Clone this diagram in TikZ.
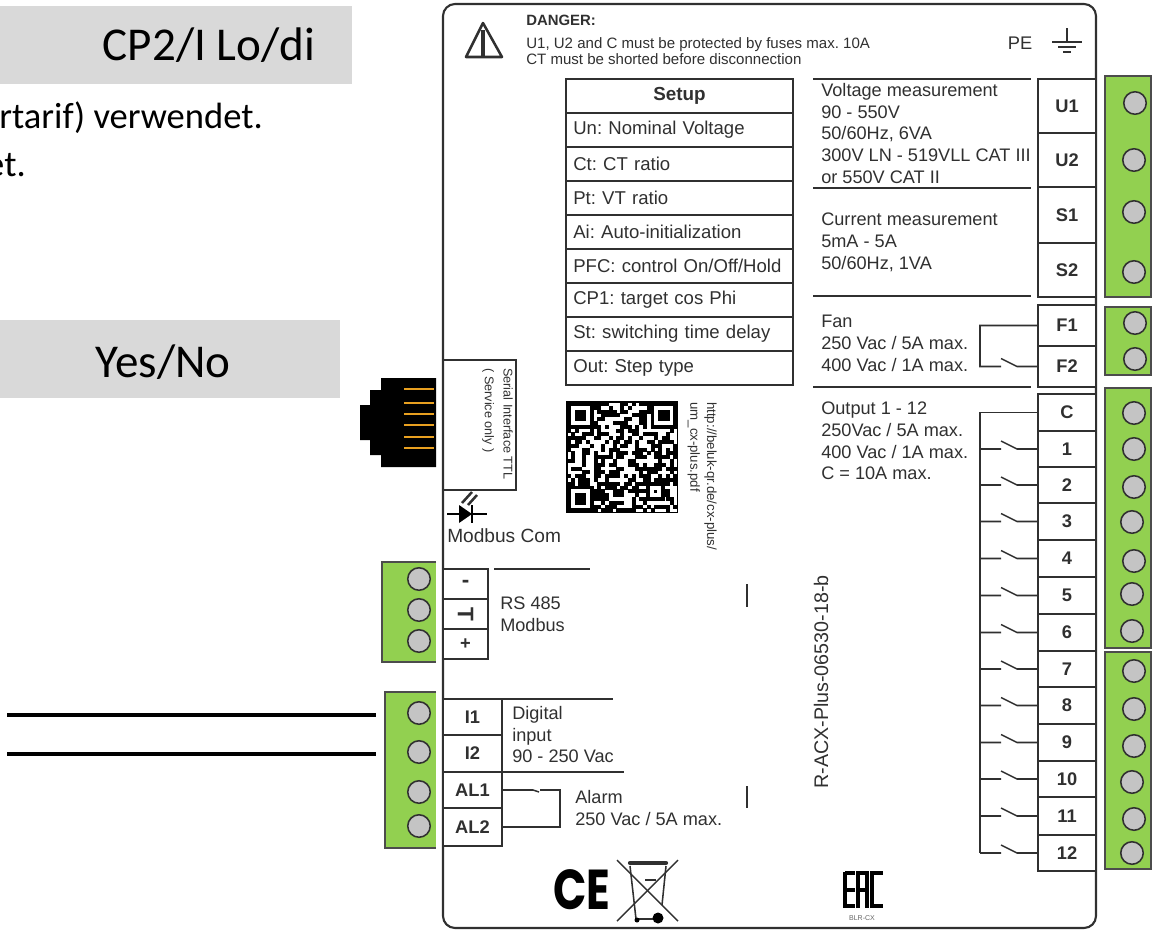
\documentclass[tikz,border=0pt]{standalone}
\usepackage{fontspec}
\usetikzlibrary{calc}
\setmainfont{Liberation Sans}
\newfontfamily\calibri{Carlito}
\newfontfamily\ceface{Poppins}
\definecolor{labelgreen}{HTML}{92D050}
\definecolor{labelgray}{HTML}{D9D9D9}
\definecolor{inkgray}{HTML}{303030}
\definecolor{screwgray}{HTML}{C4C4C4}
\definecolor{pingold}{HTML}{E8A020}
\tikzset{
  rule/.style={draw=inkgray,line width=1.5pt},
  relay/.style={draw=inkgray,line width=1.1pt},
  wire/.style={draw=black,line width=2.4pt},
  greenbar/.style={fill=labelgreen},
  screw/.style={circle,draw=inkgray,fill=screwgray,line width=1.1pt,minimum size=16pt,inner sep=0pt},
  terminal/.style={rectangle,draw=inkgray,fill=white,line width=1.5pt,inner sep=0pt,outer sep=0pt,text=inkgray,font=\bfseries\fontsize{13}{15}\selectfont},
  setuprow/.style={rectangle,draw=inkgray,line width=1.3pt,inner ysep=0pt,inner xsep=5pt,outer sep=0pt,minimum height=34*0.025cm,text width=151pt,align=left,text=inkgray,font=\fontsize{13.2}{15}\selectfont},
  spec/.style={anchor=north west,inner sep=0pt,align=left,text=inkgray,font=\fontsize{12.9}{15.4}\selectfont},
  header/.style={rectangle,inner sep=0pt,font=\calibri\fontsize{33.5}{38}\selectfont},
  note/.style={inner sep=0pt,font=\calibri\fontsize{26}{30}\selectfont},
}
\begin{document}
\frenchspacing
\begin{tikzpicture}[x=0.025cm,y=-0.025cm]
\useasboundingbox (0,0) rectangle (1158,930);
\fill[labelgray] (0,6) rectangle (352,84);
\fill[labelgray] (0,320) rectangle (340,398);
\node[header] (cplabel) at (209,45) {CP2/I Lo/di};
\node[header] (yesno) at (163,362) {Yes/No};
\node[note,anchor=east] (notea) at (263,118) {rtarif) verwendet.};
\node[note,anchor=east] (noteb) at (26,165) {et.};

\fill[black] (381,378) -- (436,378) -- (436,467) -- (381,467) -- (381,455) -- (370,455) -- (370,440) -- (360,440) -- (360,405) -- (370,405) -- (370,390) -- (381,390) -- cycle;
\foreach \y in {389,403,414,425,437,448}
  \draw[pingold,line width=1.1pt] (404,\y) -- (434,\y);

\foreach \ya/\yb in {76/297,307/375,388/648,652/869}
  \draw[greenbar,draw=black!70,line width=1pt] (1105,\ya) rectangle (1151,\yb);
\foreach \y/\x [count=\n] in {103/1135,160/1134,212/1134,272/1134,323/1135,359/1135,413/1134,449/1134,487/1134,522/1132,561/1134,594/1132,631/1132,671/1134,709/1134,746/1134,782/1132,819/1134,853/1132}
  \node[screw] (sr\n) at (\x,\y) {};

\fill[labelgreen] (382,562) rectangle (436,662);
\draw[black!70,line width=1pt] (436,562) -- (382,562) -- (382,662) -- (436,662);
\fill[labelgreen] (385,692) rectangle (436,848);
\draw[black!70,line width=1pt] (436,692) -- (385,692) -- (385,848) -- (436,848);
\foreach \y [count=\n] in {579,610,641,713,752,792,826}
  \node[screw] (sl\n) at (419,\y) {};

\coordinate (wirea) at (7,715);
\coordinate (wireb) at (7,754);
\coordinate (enda) at (376,715);
\coordinate (endb) at (376,754);
\draw[wire] (wirea) -- (enda);
\draw[wire] (wireb) -- (endb);

\draw[rule,rounded corners=0.3cm] (443,4) rectangle (1096,928);

\draw[inkgray,line width=1.8pt,line join=round] (483,23) -- (466,57) -- (502,57) -- cycle;
\draw[inkgray,line width=3pt] (483,30) -- (483,57);
\node[anchor=west,inner sep=0pt,text=inkgray,font=\bfseries\fontsize{10.6}{12}\selectfont] (danger) at (526,20) {DANGER:};
\node[spec,font=\fontsize{10.7}{11.6}\selectfont] (dangertxt) at (526,37) {U1, U2 and C must be protected by fuses max. 10A\\CT must be shorted before disconnection};
\node[inner sep=0pt,text=inkgray,font=\fontsize{13}{15}\selectfont] (pe) at (1020,43) {PE};
\draw[relay] (1067,28) -- (1067,42);
\draw[relay] (1052,42) -- (1082,42);
\draw[relay] (1058,47) -- (1076,47);
\draw[relay] (1063,52) -- (1071,52);

\node[setuprow,font=\bfseries\fontsize{13.4}{15}\selectfont,align=center] (setup) at (679.5,96) {Setup};
\foreach \txt [count=\n] in {Un: Nominal Voltage,Ct: CT ratio,Pt: VT ratio,Ai: Auto-initialization,PFC: control On/Off/Hold,CP1: target cos Phi,St: switching time delay,Out: Step type}
  \node[setuprow] (row\n) at (679.5,{96+\n*34}) {\txt};

\foreach \y in {79,188,296,387}
  \draw[rule] (813,\y) -- (1031,\y);
\node[spec] (voltage) at (821,83) {Voltage measurement\\90 - 550V\\50/60Hz, 6VA\\300V LN - 519VLL CAT III\\or 550V CAT II};
\node[spec] (current) at (821,213) {Current measurement\\5mA - 5A\\50/60Hz, 1VA};
\node[spec] (fan) at (821,315) {Fan\\250 Vac / 5A max.\\400 Vac / 1A max.};
\node[spec] (output) at (821,402) {Output 1 - 12\\250Vac / 5A max.\\400 Vac / 1A max.\\C = 10A max.};

\foreach \name/\ya/\yb/\txt in {tu1/79/133/U1,tu2/133/187/U2,ts1/187/243/S1,ts2/243/297/S2,tf1/305/346/F1,tf2/346/387/F2,tc/394/431/C,t1/431/467/1,t2/467/503/2,t3/503/540/3,t4/540/577/4,t5/577/614/5,t6/614/651/6,t7/651/687/7,t8/687/724/8,t9/724/761/9,t10/761/797/10,t11/797/835/11,t12/835/871/12}
  \node[terminal,minimum width=58*0.025cm,minimum height={(\yb-\ya)*0.025cm}] (\name) at (1067,{(\ya+\yb)/2}) {\txt};

\coordinate (busx) at (980,0);
\draw[relay] (tc.west) -- (tc.west -| busx) -- (t12.west -| busx);
\foreach \n in {1,...,12}
  \draw[relay] (t\n.west) -- ++(-21,0) -- ++(-16,-8) ++(0,8) -- ++(-21,0);
\draw[relay] (tf1.west) -- (tf1.west -| busx) -- (tf2.west -| busx) -- ++(21,0) ++(0,-8) -- ++(16,8) -- (tf2.west);

\node[draw=inkgray,line width=1.3pt,inner sep=0pt,outer sep=0pt,minimum width=73*0.025cm,minimum height=130*0.025cm] (serial) at (479.5,425) {};
\node[spec,rotate=-90,font=\fontsize{9}{13.2}\selectfont] (serialtxt) at (513,368) {Serial Interface TTL\\( Service only )};

\pgfmathsetseed{4711}
\foreach \i in {0,...,28}
  \foreach \j in {0,...,28}{
    \pgfmathtruncatemacro\qrbit{rnd>0.5}
    \ifnum\qrbit=1 \fill[black] (567+\i*3.8,402+\j*3.8) rectangle ++(3.9,3.9);\fi
  }
\foreach \a/\b in {0/0,22/0,0/22}{
  \fill[black] (567+\a*3.8,402+\b*3.8) rectangle ++(26.6,26.6);
  \fill[white] (567+\a*3.8+3.8,402+\b*3.8+3.8) rectangle ++(19,19);
  \fill[black] (567+\a*3.8+7.6,402+\b*3.8+7.6) rectangle ++(11.4,11.4);
}
\fill[black] (646,482) rectangle ++(19,19);
\fill[white] (649.8,485.8) rectangle ++(11.4,11.4);
\fill[black] (653.6,489.6) rectangle ++(3.8,3.8);
\draw[black,line width=1pt] (567,402) rectangle (677.2,512.2);
\node[spec,rotate=-90,font=\fontsize{9.4}{12}\selectfont] (qrurl) at (717,402) {http://beluk-qr.de/cx-plus/\\um\_cx-plus.pdf};

\draw[black,line width=1.6pt] (447,514) -- (487,514);
\fill[black] (459,505) -- (459,523) -- (472,514) -- cycle;
\draw[black,line width=1.8pt] (472,505) -- (472,523);
\draw[inkgray,line width=1.8pt] (462,503) -- (472,492);
\draw[inkgray,line width=1.8pt] (468,505) -- (477,495);
\node[anchor=west,inner sep=0pt,text=inkgray,font=\fontsize{13.6}{15}\selectfont] (modbuscom) at (447,536) {Modbus Com};

\foreach \name/\ya/\yb/\txt in {ta/569/599/{\fontsize{16}{16}\selectfont -},tb/599/629/{\fontsize{16}{16}\selectfont\rotatebox{-90}{T}},tp/629/659/+}
  \node[terminal,minimum width=45*0.025cm,minimum height={(\yb-\ya)*0.025cm}] (\name) at (465.5,{(\ya+\yb)/2}) {\txt};
\draw[rule] (494,569) -- (590,569);
\node[spec] (rs) at (500,597) {RS 485\\Modbus};
\draw[relay] (747,584) -- (747,607);
\draw[relay] (747,786) -- (747,808);

\foreach \name/\ya/\yb/\txt in {ti1/699/735/I1,ti2/735/772/I2,tal1/772/808/AL1,tal2/808/846/AL2}
  \node[terminal,minimum width=59*0.025cm,minimum height={(\yb-\ya)*0.025cm}] (\name) at (472.5,{(\ya+\yb)/2}) {\txt};
\draw[rule] (ti1.north east) -- (613,699);
\draw[rule] (tal1.north east) -- (624,772);
\node[spec] (digital) at (512,706) {Digital\\input\\90 - 250 Vac};
\node[spec] (alarm) at (575,790) {Alarm\\250 Vac / 5A max.};
\draw[relay] (tal1.east) -- ++(31,0) -- ++(6,2) ++(1,-2) -- ++(20,0) -- ($(tal2.east)+(58,0)$) -- (tal2.east);

\node[text=black,inner sep=0pt,xscale=0.78,font=\ceface\bfseries\fontsize{40}{40}\selectfont] (ce) at (582,890) {CE};
\draw[inkgray,line width=1pt] (617,860) -- (678,921);
\draw[inkgray,line width=1pt] (678,860) -- (617,921);
\draw[inkgray,line width=1.1pt] (630,866) -- (636,919) -- (655,919);
\draw[inkgray,line width=1.1pt] (666,866) -- (662,905);
\draw[inkgray,line width=3pt,line cap=round] (630,863) -- (666,863);
\draw[inkgray,line width=1.4pt] (645,880) -- (656,880);
\fill[black] (658,918) circle (5.5);
\fill[black] (637,920) circle (2.5);

\node[rotate=90,inner sep=0pt,text=inkgray,font=\fontsize{14}{16}\selectfont] (model) at (821,682) {R-ACX-Plus-06530-18-b};

\draw[black,line width=2.8pt] (845,872) -- (845,908);
\foreach \y in {873,890,906}
  \draw[black,line width=2.8pt] (845,\y) -- (855,\y);
\draw[black,line width=2.8pt] (858,908) -- (858,873) -- (867,873) -- (867,908);
\draw[black,line width=2.8pt] (858,890) -- (867,890);
\draw[black,line width=2.8pt] (872,908) -- (872,873) -- (883,873);
\draw[black,line width=2.8pt] (872,906) -- (883,906);
\node[inner sep=0pt,text=black!60,font=\fontsize{5}{6}\selectfont] (blr) at (862,918) {BLR-CX};
\end{tikzpicture}
\end{document}
